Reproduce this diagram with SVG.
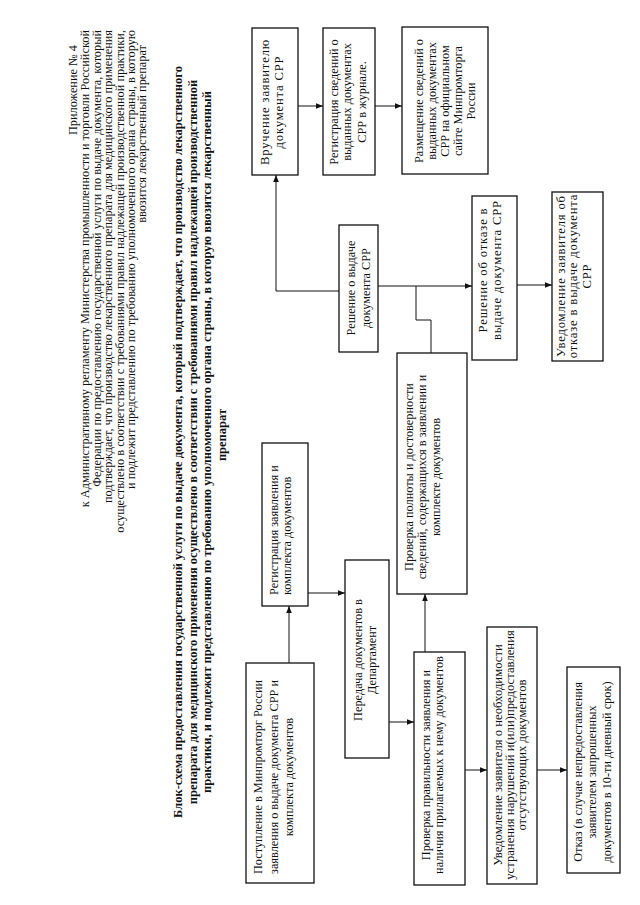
<svg xmlns="http://www.w3.org/2000/svg" width="640" height="905" viewBox="0 0 640 905">
<style>
.hd{font-family:"Liberation Serif","Times New Roman",serif;font-size:12.3px;fill:#111}
.tt{font-family:"Liberation Serif","Times New Roman",serif;font-size:12.5px;font-weight:bold;fill:#111;text-anchor:middle}
.bx{fill:#fff;stroke:#111;stroke-width:1.3}
.t{font-family:"Liberation Serif","Times New Roman",serif;font-size:12.3px;fill:#111;text-anchor:middle}
.ts{font-family:"Liberation Serif","Times New Roman",serif;font-size:12.3px;fill:#111}
.lg{font-size:12.6px;letter-spacing:0.85px}
.md{font-size:12.7px}
.ln{fill:none;stroke:#111;stroke-width:1}
</style>
<defs>
<marker id="arr" viewBox="0 0 10 10" refX="10" refY="5" markerWidth="7" markerHeight="7" markerUnits="userSpaceOnUse" orient="auto">
<path d="M0,1 L10,5 L0,9 Z" fill="#111"/>
</marker>
</defs>
<g transform="translate(0,905) rotate(-90)">
<g id="header" class="hd" text-anchor="end">
<text x="860" y="77">Приложение № 4</text>
<text x="875" y="89">к Административному регламенту Министерства промышленности и торговли Российской</text>
<text x="875" y="101">Федерации по предоставлению государственной услуги по выдаче документа, который</text>
<text x="875" y="112">подтверждает, что производство лекарственного препарата для медицинского применения</text>
<text x="875" y="124">осуществлено в соответствии с требованиями правил надлежащей производственной практики,</text>
<text x="875" y="135">и подлежит представлению по требованию уполномоченного органа страны, в которую</text>
<text x="860" y="146">ввозится лекарственный препарат</text>
</g>
<g id="title">
<text class="tt" x="463" y="182">Блок-схема предоставления государственной услуги по выдаче документа, который подтверждает, что производство лекарственного</text>
<text class="tt" x="463" y="197">препарата для медицинского применения осуществлено в соответствии с требованиями правил надлежащей производственной</text>
<text class="tt" x="463" y="211">практики, и подлежит представлению по требованию уполномоченного органа страны, в которую ввозится лекарственный</text>
<text class="tt" x="470" y="226">препарат</text>
</g>
<g id="connectors">
<line class="ln" x1="242" y1="289" x2="299" y2="289" marker-end="url(#arr)"/>
<line class="ln" x1="312" y1="308" x2="312" y2="345" marker-end="url(#arr)"/>
<line class="ln" x1="183" y1="389" x2="183" y2="414" marker-end="url(#arr)"/>
<line class="ln" x1="253" y1="425" x2="311" y2="425" marker-end="url(#arr)"/>
<line class="ln" x1="135" y1="465" x2="135" y2="487" marker-end="url(#arr)"/>
<line class="ln" x1="135" y1="537" x2="135" y2="567" marker-end="url(#arr)"/>
<polyline class="ln" points="552,431 585,431 585,416 619,416"/>
<line class="ln" x1="619" y1="378" x2="619" y2="472" marker-end="url(#arr)"/>
<polyline class="ln" points="614,339 614,276 730,276" marker-end="url(#arr)"/>
<line class="ln" x1="799" y1="298" x2="799" y2="323" marker-end="url(#arr)"/>
<line class="ln" x1="799" y1="375" x2="799" y2="402" marker-end="url(#arr)"/>
<line class="ln" x1="620" y1="517" x2="620" y2="552" marker-end="url(#arr)"/>
</g>
<g id="nodeA">
<rect class="bx" x="22" y="246" width="220" height="68"/>
<text class="t" x="128" y="262">Поступление в Минпромторг России</text>
<text class="t" x="128" y="278">заявления о выдаче документа СРР и</text>
<text class="t" x="128" y="293">комплекта документов</text>
</g>
<g id="nodeB">
<rect class="bx" x="299" y="262" width="163" height="46"/>
<text class="ts" x="310" y="278">Регистрация заявления и</text>
<text class="ts" x="310" y="291">комплекта документов</text>
</g>
<g id="nodeC">
<rect class="bx" x="147" y="345" width="198" height="44"/>
<text class="t" x="245" y="362">Передача документов в</text>
<text class="t" x="245" y="376">Департамент</text>
</g>
<g id="nodeD">
<rect class="bx" x="20" y="414" width="233" height="51"/>
<text class="t" x="140" y="430">Проверка правильности заявления и</text>
<text class="t" x="140" y="443">наличия прилагаемых к нему документов</text>
</g>
<g id="nodeE">
<rect class="bx" x="311" y="397" width="241" height="70"/>
<text class="t" x="428" y="413">Проверка полноты и достоверности</text>
<text class="t" x="428" y="426">сведений, содержащихся в заявлении и</text>
<text class="t" x="428" y="440">комплекте документов</text>
</g>
<g id="nodeF">
<rect class="bx" x="553" y="339" width="127" height="39"/>
<text class="t" x="617" y="355">Решение о выдаче</text>
<text class="t" x="617" y="370">документа СРР</text>
</g>
<g id="nodeG">
<rect class="bx" x="545" y="472" width="164" height="45"/>
<text class="t lg" x="635" y="487">Решение об отказе в</text>
<text class="t lg" x="635" y="501">выдаче документа СРР</text>
</g>
<g id="nodeH">
<rect class="bx" x="730" y="252" width="147" height="46"/>
<text class="t lg" x="803" y="269">Вручение заявителю</text>
<text class="t lg" x="803" y="283">документа СРР</text>
</g>
<g id="nodeI">
<rect class="bx" x="730" y="323" width="147" height="52"/>
<text class="t" x="803" y="338">Регистрация сведений о</text>
<text class="t" x="803" y="351">выданных документах</text>
<text class="t" x="803" y="366">СРР в журнале.</text>
</g>
<g id="nodeJ">
<rect class="bx" x="731" y="402" width="147" height="86"/>
<text class="t" x="804" y="423">Размещение сведений о</text>
<text class="t" x="804" y="436">выданных документах</text>
<text class="t" x="804" y="449">СРР на официальном</text>
<text class="t" x="804" y="462">сайте Минпромторга</text>
<text class="t" x="804" y="475">России</text>
</g>
<g id="nodeK">
<rect class="bx" x="544" y="552" width="169" height="51"/>
<text class="t lg" x="629" y="565">Уведомление заявителя об</text>
<text class="t lg" x="629" y="577">отказе в  выдаче документа</text>
<text class="t lg" x="629" y="591">СРР</text>
</g>
<g id="nodeL">
<rect class="bx" x="21" y="487" width="257" height="50"/>
<text class="t md" x="150" y="502">Уведомление заявителя о необходимости</text>
<text class="t md" x="150" y="514">устранения нарушений и(или)предоставления</text>
<text class="t md" x="150" y="526">отсутствующих документов</text>
</g>
<g id="nodeM">
<rect class="bx" x="32" y="567" width="206" height="53"/>
<text class="t" x="133" y="582">Отказ (в случае непредоставления</text>
<text class="t" x="133" y="596">заявителем запрошенных</text>
<text class="t" x="133" y="611">документов в 10-ти дневный срок)</text>
</g>
</g>
</svg>
